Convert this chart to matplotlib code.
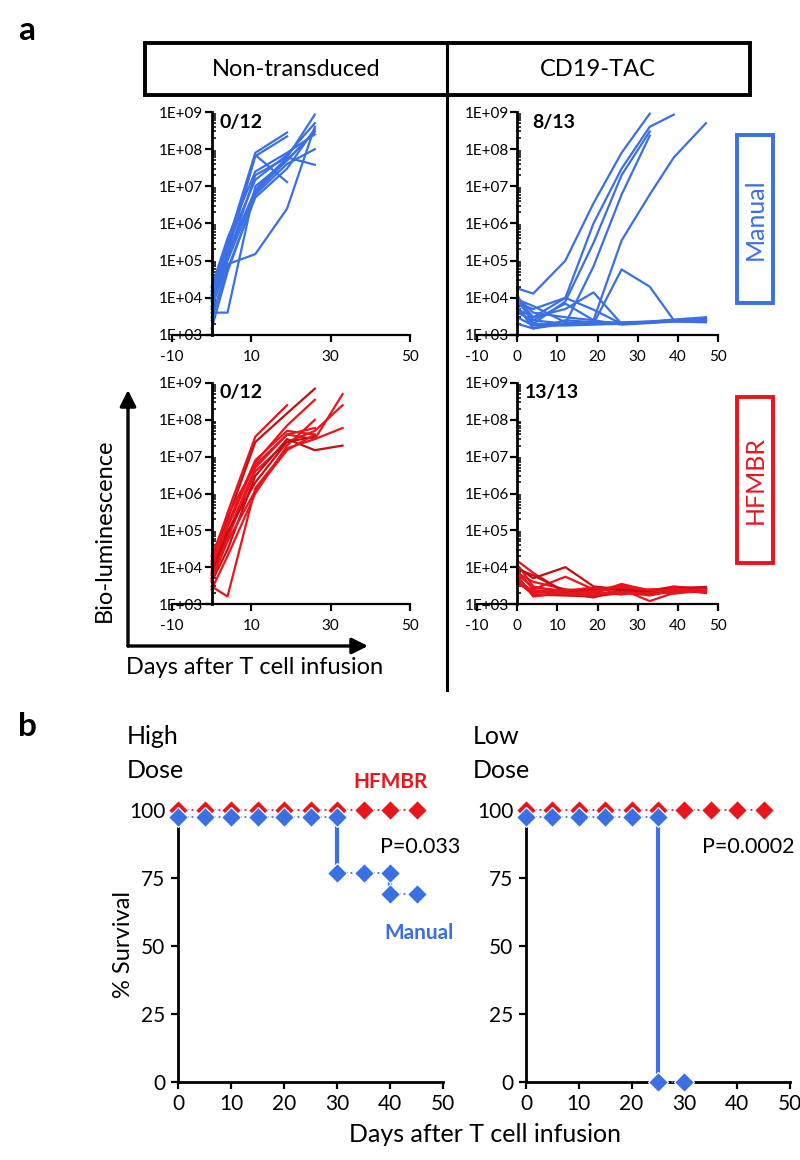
import matplotlib.pyplot as plt
import numpy as np
from matplotlib.patches import Rectangle, FancyArrowPatch
from matplotlib.lines import Line2D
from matplotlib.ticker import LogLocator, NullFormatter

plt.rcParams['font.family'] = ['Lato', 'DejaVu Sans']

BLUE = '#3B6FE4'
RED = '#E8161C'
DARK_RED = '#C40E14'

# ---- panel a: bioluminescence per mouse ----
lum_ticks = [1e3, 1e4, 1e5, 1e6, 1e7, 1e8, 1e9]
lum_tick_labels = ['1E+03', '1E+04', '1E+05', '1E+06', '1E+07', '1E+08', '1E+09']

nt_manual_days = [0, 4, 11, 19, 26]
nt_manual = [
    [1.5e4, 3.0e5, 8.0e7, 2.8e8, None],
    [1.2e4, 2.0e5, 6.5e7, 2.2e8, None],
    [9.0e3, 1.5e5, 7.0e7, 1.3e7, None],
    [6.0e3, 1.2e5, 2.0e7, 6.0e7, 8.5e8],
    [2.5e3, 8.0e4, 1.5e5, 2.5e6, 4.0e8],
    [4.0e3, 4.0e3, 1.0e7, 5.0e7, 3.0e8],
    [1.5e3, 5.0e4, 6.0e6, 4.0e7, 1.0e8],
    [8.0e3, 1.5e5, 8.0e6, 6.0e7, 3.8e7],
    [1.0e4, 2.5e5, 1.5e7, 7.0e7, 5.0e8],
    [5.0e3, 1.0e5, 7.0e6, 5.0e7, 3.0e8],
    [2.0e4, 4.0e5, 2.5e7, 8.0e7, 2.5e8],
    [3.0e3, 6.0e4, 5.0e6, 3.0e7, 3.5e8],
]

cd19_manual_days = [0, 4, 12, 19, 26, 33, 39, 47]
cd19_manual = [
    [1.8e4, 1.3e4, 1.0e5, 3.5e6, 8.0e7, 9.0e8, None, None],
    [1.0e4, 3.0e3, 1.0e4, 1.0e6, 3.0e7, 4.0e8, 8.5e8, None],
    [8.0e3, 2.5e3, 2.0e3, 7.0e4, 6.0e6, 2.3e8, None, None],
    [5.0e3, 2.0e3, 8.0e3, 3.0e5, 2.0e7, 3.0e8, None, None],
    [1.0e4, 4.0e3, 3.0e3, 2.5e3, 3.5e5, 6.0e6, 6.0e7, 5.0e8],
    [1.2e4, 2.0e3, 2.0e3, 2.0e3, 5.8e4, 2.0e4, 2.5e3, 2.6e3],
    [5.0e3, 3.0e3, 5.0e3, 1.4e4, 2.0e3, 2.2e3, 2.3e3, 2.5e3],
    [7.0e3, 5.0e3, 1.0e4, 4.8e3, 2.0e3, 2.2e3, 2.4e3, 2.6e3],
    [6.0e3, 1.5e3, 2.0e3, 2.0e3, 2.1e3, 2.3e3, 2.5e3, 2.8e3],
    [3.0e3, 1.8e3, 1.8e3, 1.9e3, 2.0e3, 2.2e3, 2.4e3, 2.3e3],
    [2.0e3, 1.5e3, 2.5e3, 2.2e3, 2.2e3, 2.3e3, 2.6e3, 3.0e3],
    [4.0e3, 2.5e3, 7.0e3, 2.5e3, 1.9e3, 2.1e3, 2.3e3, 2.2e3],
    [9.0e3, 6.0e3, 2.2e3, 2.0e3, 2.0e3, 2.2e3, 2.5e3, 2.7e3],
]

nt_hfmbr_days = [0, 4, 11, 19, 26, 33]
nt_hfmbr = [
    [1.5e4, 3.0e5, 3.5e7, 2.5e8, None, None],
    [1.0e4, 2.0e5, 2.5e7, 1.5e8, 7.0e8, None],
    [8.0e3, 1.2e5, 7.0e6, 7.0e7, 3.5e8, None],
    [6.0e3, 8.0e4, 5.0e6, 4.0e7, 3.0e7, 5.0e8],
    [5.0e3, 6.0e4, 4.0e6, 2.5e7, 5.0e7, 2.5e8],
    [4.0e3, 3.0e4, 3.0e6, 3.0e7, 1.5e7, 2.0e7],
    [3.0e3, 1.6e3, 1.4e6, 1.7e7, 3.0e7, 6.0e7],
    [2.5e3, 2.0e4, 1.0e6, 2.0e7, 1.0e8, None],
    [1.2e4, 1.5e5, 8.0e6, 5.0e7, 4.0e7, None],
    [7.0e3, 9.0e4, 2.0e6, 2.5e7, 3.5e7, None],
    [2.0e4, 2.5e5, 6.0e6, 4.0e7, 6.0e7, None],
    [4.5e3, 5.0e4, 1.2e6, 1.5e7, 4.0e7, None],
]

cd19_hfmbr_days = [0, 4, 12, 19, 26, 33, 39, 47]
cd19_hfmbr = [
    [1.5e4, 7.0e3, 2.0e3, 1.8e3, 2.0e3, 2.2e3, 2.5e3, 2.4e3],
    [1.0e4, 5.0e3, 1.0e4, 3.0e3, 2.5e3, 2.0e3, 2.8e3, 2.6e3],
    [8.0e3, 2.5e3, 5.5e3, 2.5e3, 3.0e3, 2.0e3, 2.2e3, 2.8e3],
    [6.0e3, 1.6e3, 2.0e3, 1.5e3, 2.5e3, 1.2e3, 2.0e3, 2.2e3],
    [5.0e3, 2.0e3, 2.2e3, 2.0e3, 3.5e3, 2.3e3, 3.0e3, 2.5e3],
    [4.0e3, 1.8e3, 1.7e3, 1.6e3, 2.0e3, 2.0e3, 2.4e3, 2.0e3],
    [7.0e3, 4.0e3, 2.5e3, 2.2e3, 1.8e3, 2.5e3, 2.6e3, 2.7e3],
    [1.2e4, 3.0e3, 2.0e3, 2.4e3, 2.8e3, 1.8e3, 2.2e3, 2.3e3],
    [4.5e3, 2.2e3, 1.8e3, 1.7e3, 2.2e3, 2.1e3, 1.9e3, 2.5e3],
    [9.0e3, 6.0e3, 2.2e3, 2.6e3, 2.4e3, 2.2e3, 2.7e3, 2.9e3],
    [5.5e3, 1.7e3, 1.9e3, 1.8e3, 2.1e3, 1.7e3, 2.3e3, 2.1e3],
    [3.5e3, 2.4e3, 2.0e3, 2.0e3, 3.2e3, 2.4e3, 2.1e3, 2.6e3],
    [6.5e3, 2.8e3, 2.3e3, 2.8e3, 1.9e3, 1.9e3, 2.6e3, 2.3e3],
]

# ---- panel b: survival ----
hfmbr_days = [0, 5, 10, 15, 20, 25, 30, 35, 40, 45]
high_hfmbr = [100, 100, 100, 100, 100, 100, 100, 100, 100, 100]
low_hfmbr = [100, 100, 100, 100, 100, 100, 100, 100, 100, 100]
high_manual_days = [0, 5, 10, 15, 20, 25, 30, 30, 35, 40, 40, 45]
high_manual = [97.5, 97.5, 97.5, 97.5, 97.5, 97.5, 97.5, 76.9, 76.9, 76.9, 69.2, 69.2]
low_manual_days = [0, 5, 10, 15, 20, 25, 25, 30]
low_manual = [97.5, 97.5, 97.5, 97.5, 97.5, 97.5, 0, 0]

W, H = 800, 1160
fig = plt.figure(figsize=(W / 100, H / 100), dpi=100)


def rect_px(x0, y0, x1, y1):
    # pixel box (top-left origin) -> figure fraction rect
    return [x0 / W, 1 - y1 / H, (x1 - x0) / W, (y1 - y0) / H]


def fpt(x, y):
    return x / W, 1 - y / H


def lum_panel(box, days, curves, colors, xticks, count, count_x):
    ax = fig.add_axes(rect_px(*box))
    for i, c in enumerate(curves):
        vals = np.array([np.nan if v is None else v for v in c], dtype=float)
        ax.plot(days, vals, color=colors[i % len(colors)], lw=1.6, clip_on=False)
    ax.set_yscale('log')
    ax.set_ylim(1e3, 1e9)
    ax.set_xlim(-10, 50)
    ax.set_yticks(lum_ticks)
    ax.set_yticklabels(lum_tick_labels)
    ax.yaxis.set_minor_locator(LogLocator(base=10, subs=np.arange(2, 10)))
    ax.yaxis.set_minor_formatter(NullFormatter())
    ax.set_xticks(xticks)
    ax.set_xticklabels([str(t) for t in xticks])
    ax.spines['left'].set_position(('data', 0))
    ax.spines['top'].set_visible(False)
    ax.spines['right'].set_visible(False)
    ax.spines['left'].set_linewidth(2.0)
    ax.spines['bottom'].set_linewidth(1.6)
    ax.tick_params(axis='y', which='major', direction='out', length=5, width=1.6,
                   labelsize=11, pad=1)
    ax.tick_params(axis='y', which='minor', direction='in', length=3, width=1.1)
    ax.tick_params(axis='x', direction='out', length=5, width=1.6, labelsize=11, pad=6)
    ax.patch.set_alpha(0)
    ax.text(count_x, 0.955, count, transform=ax.transAxes, fontsize=14,
            fontweight='bold', va='center', ha='left')
    return ax


blue_set = [BLUE]
red_set = [RED, DARK_RED, RED, RED]

lum_panel((172, 112, 410, 335), nt_manual_days, nt_manual, blue_set,
          [-10, 10, 30, 50], '0/12', 0.2)
lum_panel((477, 112, 718, 335), cd19_manual_days, cd19_manual, blue_set,
          [-10, 0, 10, 20, 30, 40, 50], '8/13', 0.23)
lum_panel((172, 383, 410, 604), nt_hfmbr_days, nt_hfmbr, red_set,
          [-10, 10, 30, 50], '0/12', 0.2)
lum_panel((477, 383, 718, 604), cd19_hfmbr_days, cd19_hfmbr, red_set,
          [-10, 0, 10, 20, 30, 40, 50], '13/13', 0.2)

# header box and divider
x0, y0 = fpt(145, 95)
x1, y1 = fpt(750, 43)
fig.add_artist(Rectangle((x0, y0), x1 - x0, y1 - y0, transform=fig.transFigure,
                         fill=False, lw=2.8, ec='black'))
fig.add_artist(Line2D([447 / W, 447 / W], [1 - 43 / H, 1 - 690 / H],
                      transform=fig.transFigure, color='black', lw=2.2))
fig.text(*fpt(296, 69), 'Non-transduced', ha='center', va='center', fontsize=17)
fig.text(*fpt(598, 69), 'CD19-TAC', ha='center', va='center', fontsize=17)

# row label boxes
for (top, bot, lab, col) in [(135, 303, 'Manual', BLUE), (397, 563, 'HFMBR', RED)]:
    bx0, by0 = fpt(737, bot)
    bx1, by1 = fpt(773, top)
    fig.add_artist(Rectangle((bx0, by0), bx1 - bx0, by1 - by0,
                             transform=fig.transFigure, fill=False, lw=2.8, ec=col))
    fig.text(*fpt(755, (top + bot) / 2), lab, rotation=90, ha='center',
             va='center', fontsize=18, color=col)

# axis arrows
corner = fpt(128, 646)
fig.add_artist(FancyArrowPatch(corner, fpt(128, 390), transform=fig.transFigure,
                               arrowstyle='-|>', mutation_scale=24, lw=2.4,
                               color='black', shrinkA=0, shrinkB=0))
fig.add_artist(FancyArrowPatch(corner, fpt(368, 646), transform=fig.transFigure,
                               arrowstyle='-|>', mutation_scale=24, lw=2.4,
                               color='black', shrinkA=0, shrinkB=0))
fig.text(*fpt(104, 530), 'Bio-luminescence', rotation=90, ha='center',
         va='center', fontsize=17)
fig.text(*fpt(126, 668), 'Days after T cell infusion', ha='left', va='center',
         fontsize=17)

fig.text(*fpt(18, 30), 'a', fontsize=24, fontweight='bold', va='center')
fig.text(*fpt(18, 727), 'b', fontsize=24, fontweight='bold', va='center')


def draw_steps(ax, days, vals, color):
    for i in range(len(days) - 1):
        if days[i] == days[i + 1]:
            ax.plot(days[i:i + 2], vals[i:i + 2], color=color, lw=3.0,
                    clip_on=False, zorder=3)
        else:
            ax.plot(days[i:i + 2], vals[i:i + 2], color=color, lw=1.3,
                    ls=(0, (1, 1.5)), clip_on=False, zorder=3)
    ax.plot(days, vals, 'D', color=color, ms=10.5, mec='white', mew=0.9,
            clip_on=False, zorder=4)


def surv_panel(box, hf_vals, man_days, man_vals):
    ax = fig.add_axes(rect_px(*box))
    draw_steps(ax, hfmbr_days, hf_vals, RED)
    draw_steps(ax, man_days, man_vals, BLUE)
    ax.set_xlim(0, 50)
    ax.set_ylim(0, 100)
    ax.set_xticks([0, 10, 20, 30, 40, 50])
    ax.set_yticks([0, 25, 50, 75, 100])
    ax.spines['top'].set_visible(False)
    ax.spines['right'].set_visible(False)
    ax.spines['left'].set_linewidth(2.0)
    ax.spines['bottom'].set_linewidth(2.0)
    ax.tick_params(direction='out', length=5, width=1.6, labelsize=15, pad=4)
    ax.patch.set_alpha(0)
    return ax


surv_panel((178, 810, 443, 1082), high_hfmbr, high_manual_days, high_manual)
surv_panel((526, 810, 790, 1082), low_hfmbr, low_manual_days, low_manual)

fig.text(*fpt(127, 737), 'High', fontsize=18, va='center', ha='left')
fig.text(*fpt(127, 770), 'Dose', fontsize=18, va='center', ha='left')
fig.text(*fpt(473, 737), 'Low', fontsize=18, va='center', ha='left')
fig.text(*fpt(473, 770), 'Dose', fontsize=18, va='center', ha='left')
fig.text(*fpt(391, 782), 'HFMBR', fontsize=15, fontweight='bold', color=RED,
         ha='center', va='center')
fig.text(*fpt(419, 933), 'Manual', fontsize=15, fontweight='bold', color=BLUE,
         ha='center', va='center')
fig.text(*fpt(420, 847), 'P=0.033', fontsize=15.5, ha='center', va='center')
fig.text(*fpt(748, 847), 'P=0.0002', fontsize=15.5, ha='center', va='center')
fig.text(*fpt(124, 945), '% Survival', rotation=90, fontsize=17, ha='center',
         va='center')
fig.text(*fpt(485, 1135), 'Days after T cell infusion', fontsize=18,
         ha='center', va='center')

fig.savefig('out.png', dpi=100)
